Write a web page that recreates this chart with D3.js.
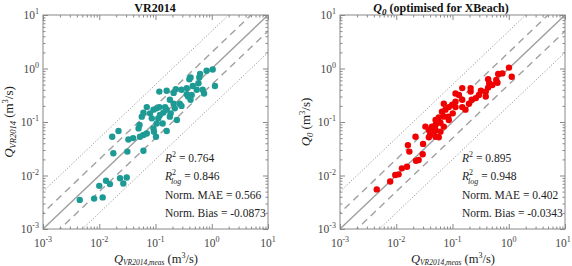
<!DOCTYPE html>
<html>
<head>
<meta charset="utf-8">
<script src="https://cdn.jsdelivr.net/npm/d3@7"></script>
<style>
  body { margin: 0; background: #fff; }
  svg { display: block; font-family: "Liberation Serif", "Times New Roman", serif; }
  .tick line { stroke: #888; }
  .domain { display: none; }
</style>
</head>
<body>
<svg id="chart" width="572" height="266"></svg>
<script>
// ── Data (measured vs. predicted, m3/s) ────────────────────────────────────
const vrMeas = [1.04,1.14,0.81,0.62,0.60,0.42,0.40,0.58,0.46,0.36,0.36,0.54,0.69,0.73,0.44,0.38,0.29,0.23,0.21,0.158,
  0.117,0.42,0.27,0.18,0.21,0.22,0.29,0.148,0.158,0.117,0.105,0.138,0.186,0.12,0.092,0.070,0.080,0.061,0.057,0.086,
  0.112,0.105,0.134,0.092,0.052,0.050,0.094,0.070,0.053,0.061,0.040,0.033,0.022,0.017,0.24,0.18,0.158,0.102,
  0.0178,0.0316,0.061,0.0132,0.0100,0.0155,0.0234,0.0308,0.0268,0.0081,0.0115,0.0045];
const vrPred = [0.96,0.47,0.91,0.79,0.68,0.68,0.63,0.53,0.47,0.43,0.33,0.40,0.40,0.34,0.32,0.30,0.40,0.41,0.35,0.385,
  0.37,0.26,0.22,0.26,0.22,0.18,0.20,0.19,0.17,0.19,0.18,0.15,0.145,0.135,0.17,0.19,0.145,0.15,0.126,0.117,
  0.117,0.094,0.094,0.076,0.088,0.076,0.066,0.061,0.053,0.057,0.050,0.047,0.068,0.053,0.109,0.126,0.068,0.053,
  0.026,0.028,0.029,0.0080,0.0064,0.0069,0.0089,0.0092,0.0071,0.0037,0.0039,0.0035];

const q0Meas = [1.01,1.13,0.77,0.65,0.43,0.60,0.45,0.63,0.51,0.43,0.39,0.32,0.295,0.39,0.26,0.22,0.196,0.149,0.21,0.21,
  0.149,0.13,0.113,0.113,0.113,0.099,0.086,0.075,0.101,0.084,0.065,0.070,0.057,0.050,0.061,0.050,0.043,0.070,
  0.050,0.038,0.033,0.070,0.086,0.149,0.17,0.022,0.040,0.050,0.048,0.061,0.057,0.038,0.0161,0.0171,0.030,
  0.0295,0.025,0.0225,0.0155,0.0126,0.0110,0.0096,0.0078,0.0045];
const q0Pred = [1.04,0.70,0.81,0.79,0.63,0.61,0.53,0.54,0.49,0.44,0.37,0.385,0.32,0.30,0.28,0.26,0.22,0.26,0.43,0.37,
  0.43,0.32,0.34,0.24,0.19,0.21,0.19,0.17,0.145,0.126,0.156,0.126,0.122,0.109,0.097,0.088,0.082,0.22,
  0.071,0.071,0.082,0.082,0.109,0.19,0.17,0.053,0.057,0.053,0.068,0.066,0.052,0.052,0.037,0.028,0.039,
  0.025,0.0195,0.0189,0.0146,0.0136,0.0105,0.0102,0.0077,0.0055];

const decades = [1e-3, 1e-2, 1e-1, 1e0, 1e1];
const decadeExp = ["-3", "-2", "-1", "0", "1"];
const vrStats = [["R", "2", "", " = 0.764"], ["R", "2", "log", " = 0.846"], ["Norm. MAE = 0.566"], ["Norm. Bias = -0.0873"]];
const q0Stats = [["R", "2", "", " = 0.895"], ["R", "2", "log", " = 0.948"], ["Norm. MAE = 0.402"], ["Norm. Bias = -0.0343"]];

// ── Helpers ────────────────────────────────────────────────────────────────
const svg = d3.select("#chart");
const W = 572;
const minorTicks = [];
decades.slice(0, -1).forEach(d => { for (let k = 2; k < 10; k++) minorTicks.push(d * k); });

function panel(opt) {
  const x = d3.scaleLog().domain([1e-3, 1e1]).range([opt.left, opt.left + 225]);
  const y = d3.scaleLog().domain([1e-3, 1e1]).range([229, 15]);
  const g = svg.append("g");

  // reference lines: 1:1, factor 2 and factor 5
  const lines = [
    { f: 1, dash: null, col: "#a0a0a0", w: 1.4 },
    { f: 2, dash: "7,5", col: "#a0a0a0", w: 1.4 },
    { f: 0.5, dash: "7,5", col: "#a0a0a0", w: 1.4 },
    { f: 5, dash: "1,2", col: "#777", w: 0.9 },
    { f: 0.2, dash: "1,2", col: "#777", w: 0.9 },
  ];
  const clip = "clip" + opt.left;
  svg.append("clipPath").attr("id", clip).append("rect")
    .attr("x", opt.left).attr("y", 15).attr("width", 225).attr("height", 214);
  lines.forEach(l => {
    const x0 = 1e-4, x1 = 1e2;
    g.append("line")
      .attr("clip-path", `url(#${clip})`)
      .attr("x1", x(x0)).attr("y1", y(x0 * l.f))
      .attr("x2", x(x1)).attr("y2", y(x1 * l.f))
      .attr("stroke", l.col).attr("stroke-width", l.w)
      .attr("stroke-dasharray", l.dash);
  });

  // points
  g.selectAll("circle.pt").data(opt.meas).join("circle")
    .attr("class", "pt")
    .attr("cx", d => x(d))
    .attr("cy", (d, i) => y(opt.pred[i]))
    .attr("r", 3.2)
    .attr("fill", opt.color);

  // axes with inward ticks on all sides
  [[d3.axisBottom(x), 229], [d3.axisTop(x), 15]].forEach(([a, ty]) => {
    g.append("g").attr("transform", `translate(0,${ty})`)
      .call(a.tickValues(decades).tickSize(-5).tickFormat(""));
    g.append("g").attr("transform", `translate(0,${ty})`)
      .call(a.tickValues(minorTicks).tickSize(-2.5).tickFormat(""));
  });
  [[d3.axisLeft(y), opt.left], [d3.axisRight(y), opt.left + 225]].forEach(([a, tx]) => {
    g.append("g").attr("transform", `translate(${tx},0)`)
      .call(a.tickValues(decades).tickSize(-5).tickFormat(""));
    g.append("g").attr("transform", `translate(${tx},0)`)
      .call(a.tickValues(minorTicks).tickSize(-2.5).tickFormat(""));
  });
  g.append("rect").attr("x", opt.left).attr("y", 15).attr("width", 225).attr("height", 214)
    .attr("fill", "none").attr("stroke", "#888").attr("stroke-width", 1);

  // tick labels
  decades.forEach((d, i) => {
    const t = g.append("text").attr("x", Math.min(x(d), W - 9)).attr("y", 247)
      .attr("text-anchor", "middle").attr("font-size", 11.5).attr("fill", "#444");
    t.append("tspan").text("10");
    t.append("tspan").attr("dy", -5).attr("font-size", 8).text(decadeExp[i]);
    const u = g.append("text").attr("x", opt.left - 4).attr("y", y(d) + 4)
      .attr("text-anchor", "end").attr("font-size", 11.5).attr("fill", "#444");
    u.append("tspan").text("10");
    u.append("tspan").attr("dy", -5).attr("font-size", 8).text(decadeExp[i]);
  });

  // statistics
  const sy = [162, 180, 199, 217];
  opt.stats.forEach((s, i) => {
    const t = g.append("text").attr("x", opt.left + 122).attr("y", sy[i])
      .attr("font-size", 11.5).attr("fill", "#222");
    if (s.length === 1) { t.text(s[0]); return; }
    t.append("tspan").attr("font-style", "italic").text(s[0]);
    t.append("tspan").attr("dy", -5).attr("font-size", 8).text(s[1]);
    if (s[2]) {
      t.append("tspan").attr("dx", -5).attr("dy", 9).attr("font-size", 8)
        .attr("font-style", "italic").text(s[2]);
      t.append("tspan").attr("dy", -4).text(s[3]);
    } else {
      t.append("tspan").attr("dy", 5).text(s[3]);
    }
  });

  // x label (sits at the bottom edge, as in the source figure)
  const xl = g.append("text").attr("x", opt.left + 113).attr("y", 263)
    .attr("text-anchor", "middle").attr("font-size", 12.5).attr("fill", "#222");
  xl.append("tspan").attr("font-style", "italic").text("Q");
  xl.append("tspan").attr("dy", 2).attr("font-size", 7.5).attr("font-style", "italic").text("VR2014,meas");
  xl.append("tspan").attr("dy", -2).text(" (m");
  xl.append("tspan").attr("dy", -5).attr("font-size", 8).text("3");
  xl.append("tspan").attr("dy", 5).text("/s)");

  // y label
  const yl = g.append("text")
    .attr("transform", `translate(${opt.left - 30},122) rotate(-90)`)
    .attr("text-anchor", "middle").attr("font-size", 13).attr("fill", "#222");
  yl.append("tspan").attr("font-style", "italic").text("Q");
  yl.append("tspan").attr("dy", 3).attr("font-size", 8.5).attr("font-style", "italic").text(opt.ySub);
  yl.append("tspan").attr("dy", -3).text(" (m");
  yl.append("tspan").attr("dy", -5).attr("font-size", 8.5).text("3");
  yl.append("tspan").attr("dy", 5).text("/s)");

  // title
  const tt = g.append("text").attr("x", opt.titleX).attr("y", 12)
    .attr("text-anchor", "middle").attr("font-size", 12).attr("font-weight", "bold").attr("fill", "#111");
  opt.title(tt);
}

panel({
  left: 43, meas: vrMeas, pred: vrPred, color: "#1e9a94", stats: vrStats, ySub: "VR2014",
  titleX: 155, title: t => t.text("VR2014"),
});
panel({
  left: 340, meas: q0Meas, pred: q0Pred, color: "#f00000", stats: q0Stats, ySub: "0",
  titleX: 441, title: t => {
    t.append("tspan").attr("font-style", "italic").text("Q");
    t.append("tspan").attr("dy", 3).attr("font-size", 9).attr("font-style", "italic").text("0");
    t.append("tspan").attr("dy", -3).text(" (optimised for XBeach)");
  },
});
</script>
</body>
</html>
